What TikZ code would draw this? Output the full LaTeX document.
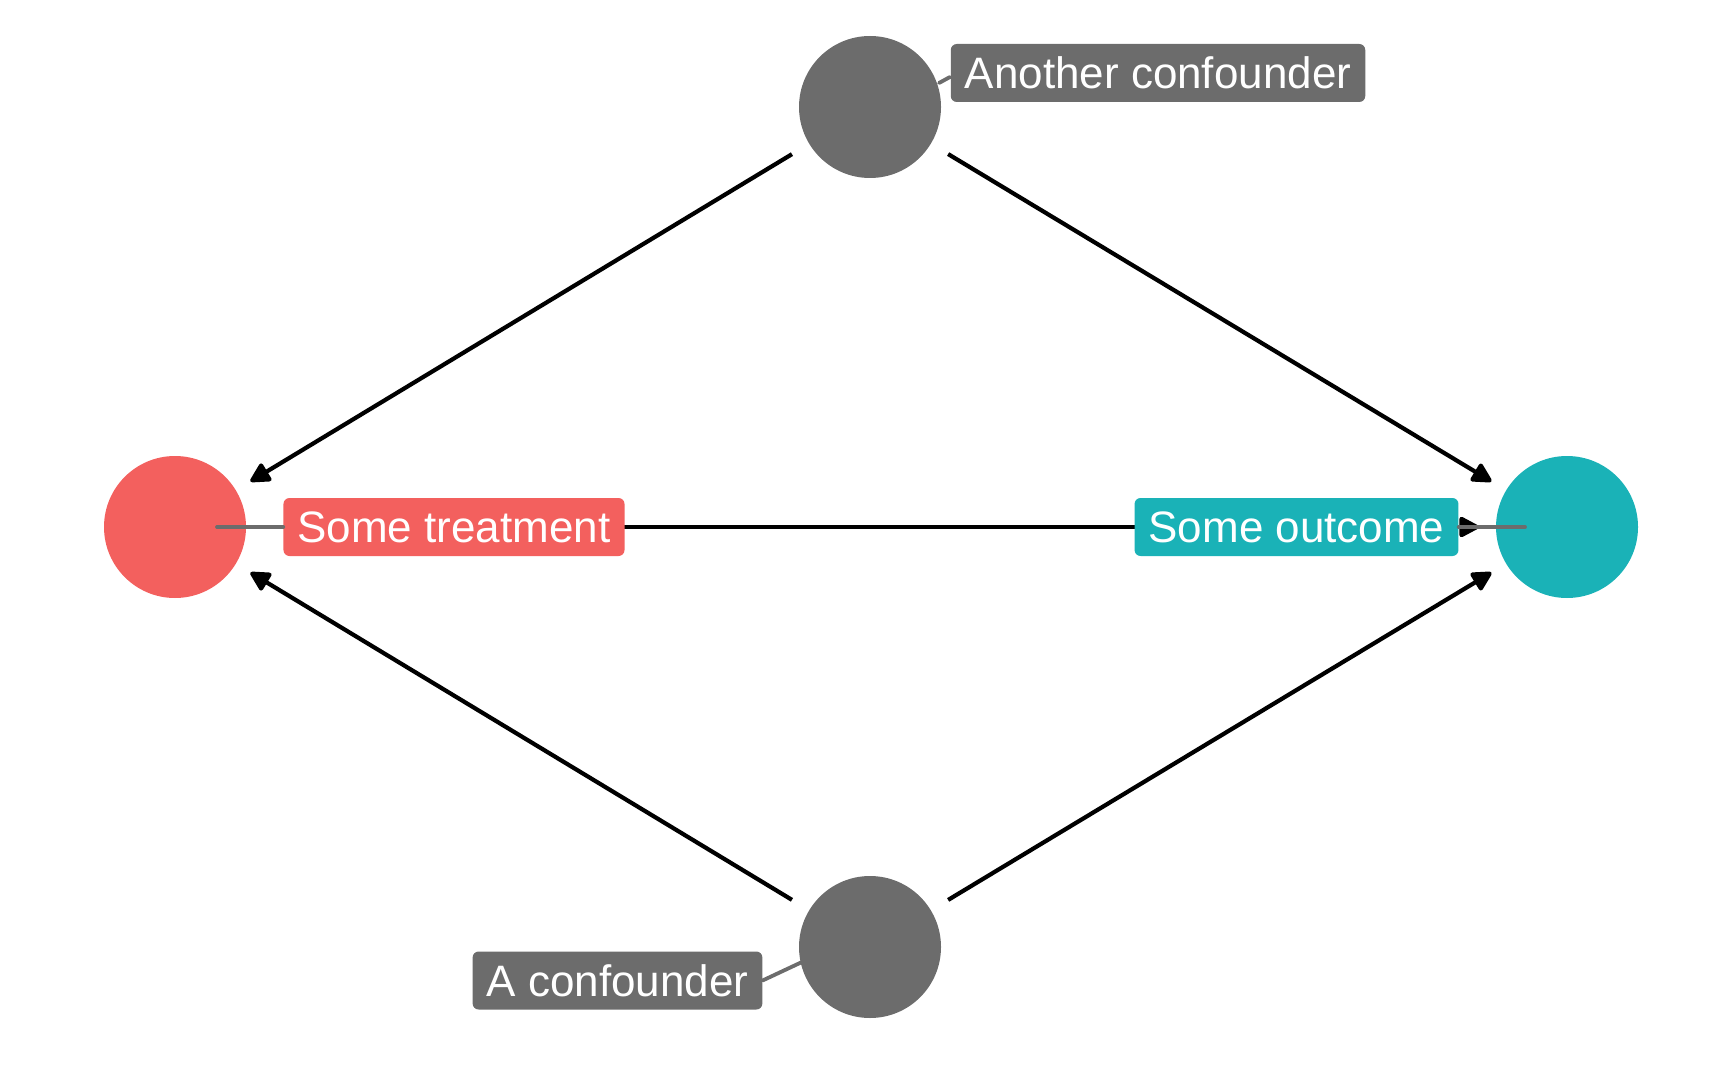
\documentclass[tikz,border=0pt]{standalone}
\usepackage{fontspec}
\setmainfont{Liberation Sans}
\usepackage{xcolor}
\usetikzlibrary{calc,arrows.meta}
\definecolor{trtred}{RGB}{243,96,94}
\definecolor{outteal}{RGB}{26,178,183}
\definecolor{cfgray}{RGB}{108,108,108}

\begin{document}
\begin{tikzpicture}[x=1pt, y=-1pt, vtx/.style={circle, minimum size=142pt, inner sep=0pt}, lbl/.style={rounded corners=6pt, text=white, inner xsep=14pt, inner ysep=0pt, minimum height=58pt, font=\fontsize{44}{50}\selectfont}, edg/.style={line width=4.2pt, -{Triangle[length=22pt, width=22pt, round]}, shorten <=20pt, shorten >=17pt}, seg/.style={draw=cfgray, line width=3.8pt, line cap=round}]
\useasboundingbox (0,0) rectangle (1728,1067);
\foreach \n/\c/\x/\y in {treat/trtred/175/527, outc/outteal/1567/527, confB/cfgray/870/107, confA/cfgray/870/947}{\node[vtx, fill=\c] (\n) at (\x,\y){};}
\foreach \i/\j in {confB/treat, confB/outc, confA/treat, confA/outc, treat/outc}{\draw[edg] (\i) -- (\j);}
\node[lbl, fill=trtred] (treatlbl) at (454,527){Some treatment};
\node[lbl, fill=outteal] (outclbl) at (1296.5,527){Some outcome};
\node[lbl, fill=cfgray] (confBlbl) at (1158,73){Another confounder};
\node[lbl, fill=cfgray] (confAlbl) at (617.5,980.5){A confounder};
\coordinate (treatpin) at (217,527);
\coordinate (outcpin) at (1525,527);
\coordinate (confBpin) at (939,83);
\coordinate (confBend) at (950,77);
\coordinate (confApin) at (802,962);
\draw[seg] (treatpin) -- (treatlbl.west);
\draw[seg] (outclbl.east) -- (outcpin);
\draw[seg] (confBpin) -- (confBend);
\draw[seg] (confAlbl.east) -- (confApin);
\end{tikzpicture}
\end{document}
